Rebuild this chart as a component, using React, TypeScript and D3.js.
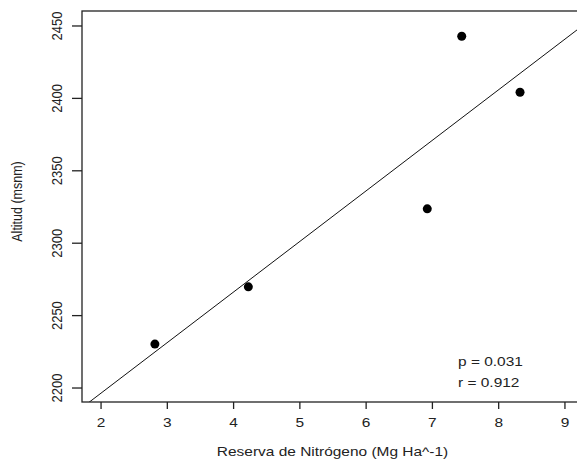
import * as d3 from "d3";
import { useEffect, useRef } from "react";

// Reserva de Nitrógeno (Mg Ha^-1) vs Altitud (msnm)
const nitrogeno = [2.82, 4.23, 6.93, 7.45, 8.33];
const altitud = [2230, 2269.5, 2323.4, 2442.6, 2403.9];
const xTicks = [2, 3, 4, 5, 6, 7, 8, 9];
const yTicks = [2200, 2250, 2300, 2350, 2400, 2450];
const stats = ["p = 0.031", "r = 0.912"];

export default function App() {
  const ref = useRef<SVGSVGElement>(null);

  useEffect(() => {
    if (!ref.current) return;
    const svg = d3.select(ref.current);
    svg.selectAll("*").remove();

    const width = 577,
      height = 471;
    const margin = { top: 11, right: -6, bottom: 69, left: 82 };
    const font = "Liberation Sans, Arial, sans-serif";
    const ink = "#222";
    const sx = 1.19; // the picture is a little stretched sideways

    svg.attr("width", width).attr("height", height);

    // R style: limits padded 4% beyond xlim c(2,9), ylim c(2200,2450)
    const x = d3
      .scaleLinear()
      .domain([1.72, 9.28])
      .range([margin.left, width - margin.right]);
    const y = d3
      .scaleLinear()
      .domain([2190, 2460])
      .range([height - margin.bottom, margin.top]);

    const defs = svg.append("defs");
    defs
      .append("clipPath")
      .attr("id", "plotClip")
      .append("rect")
      .attr("x", margin.left)
      .attr("y", margin.top)
      .attr("width", width - margin.right - margin.left)
      .attr("height", height - margin.bottom - margin.top);

    // least squares fit
    const mx = d3.mean(nitrogeno) as number;
    const my = d3.mean(altitud) as number;
    let sxy = 0,
      sxx = 0;
    nitrogeno.forEach((n, i) => {
      sxy += (n - mx) * (altitud[i] - my);
      sxx += (n - mx) * (n - mx);
    });
    const slope = sxy / sxx;
    const intercept = my - slope * mx;
    const [x0, x1] = x.domain();

    svg
      .append("line")
      .attr("clip-path", "url(#plotClip)")
      .attr("x1", x(x0))
      .attr("y1", y(intercept + slope * x0))
      .attr("x2", x(x1))
      .attr("y2", y(intercept + slope * x1))
      .attr("stroke", "#111")
      .attr("stroke-width", 1);

    // points
    svg
      .append("g")
      .selectAll("circle")
      .data(nitrogeno)
      .enter()
      .append("circle")
      .attr("cx", (d) => x(d))
      .attr("cy", (d, i) => y(altitud[i]))
      .attr("r", 4.5)
      .attr("fill", "#000");

    // box
    svg
      .append("rect")
      .attr("x", margin.left)
      .attr("y", margin.top)
      .attr("width", width - margin.right - margin.left)
      .attr("height", height - margin.bottom - margin.top)
      .attr("fill", "none")
      .attr("stroke", ink)
      .attr("stroke-width", 1.3);

    // X axis
    const xAxis = svg
      .append("g")
      .attr("transform", `translate(0, ${height - margin.bottom})`)
      .call(d3.axisBottom(x).tickValues(xTicks).tickSize(7).tickPadding(9).tickFormat(d3.format("d")));
    xAxis.select(".domain").remove();
    xAxis.selectAll("line").attr("stroke", ink).attr("stroke-width", 1.3);
    xAxis
      .selectAll("text")
      .attr("fill", ink)
      .attr("font-family", font)
      .attr("font-size", "13px")
      .attr("transform", `scale(${sx},1)`);

    // Y axis
    const yAxis = svg
      .append("g")
      .attr("transform", `translate(${margin.left}, 0)`)
      .call(d3.axisLeft(y).tickValues(yTicks).tickSize(10).tickFormat(d3.format("d")));
    yAxis.select(".domain").remove();
    yAxis.selectAll("line").attr("stroke", ink).attr("stroke-width", 1.3);
    yAxis
      .selectAll("text")
      .attr("fill", ink)
      .attr("font-family", font)
      .attr("font-size", "13px")
      .attr("text-anchor", "middle")
      .attr("dy", null)
      .attr("x", 0)
      .attr("y", 0)
      .attr("transform", `translate(-20.5,0) scale(${sx},1) rotate(-90)`);

    // axis titles
    svg
      .append("text")
      .attr("transform", `translate(${(margin.left + width - margin.right) / 2}, 456) scale(${sx},1)`)
      .attr("text-anchor", "middle")
      .attr("fill", ink)
      .attr("font-family", font)
      .attr("font-size", "13px")
      .text("Reserva de Nitrógeno (Mg Ha^-1)");

    svg
      .append("text")
      .attr("transform", `translate(22, 201.5) scale(${sx},1) rotate(-90)`)
      .attr("text-anchor", "middle")
      .attr("fill", ink)
      .attr("font-family", font)
      .attr("font-size", "12.5px")
      .text("Altitud (msnm)");

    // p and r
    svg
      .append("g")
      .selectAll("text")
      .data(stats)
      .enter()
      .append("text")
      .attr("transform", (d, i) => `translate(458, ${365.5 + i * 21}) scale(${sx},1)`)
      .attr("fill", ink)
      .attr("font-family", font)
      .attr("font-size", "13px")
      .text((d) => d);
  }, []);

  return (
    <svg
      ref={ref}
      style={{ position: "absolute", left: 0, top: 0, background: "#fff" }}
    />
  );
}
